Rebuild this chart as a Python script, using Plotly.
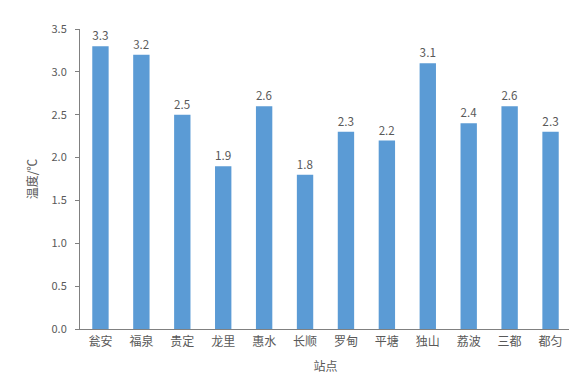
import plotly.graph_objects as go

stations = ["瓮安", "福泉", "贵定", "龙里", "惠水", "长顺", "罗甸", "平塘", "独山", "荔波", "三都", "都匀"]
temps = [3.3, 3.2, 2.5, 1.9, 2.6, 1.8, 2.3, 2.2, 3.1, 2.4, 2.6, 2.3]
y_ticks = [0.0, 0.5, 1.0, 1.5, 2.0, 2.5, 3.0, 3.5]

font_family = "Noto Sans CJK SC, DejaVu Sans"
grey = "#595959"

fig = go.Figure(go.Bar(
    x=stations, y=temps,
    marker=dict(color="#5B9BD5", line=dict(width=0)),
    text=[f"{v:.1f}" for v in temps],
    textposition="outside",
    textfont=dict(family=font_family, size=12, color=grey),
    cliponaxis=False,
))

fig.update_layout(
    width=577, height=380,
    margin=dict(l=72, r=14, t=14, b=59),
    paper_bgcolor="white", plot_bgcolor="white",
    bargap=0.6,
    showlegend=False,
    font=dict(family=font_family, size=11, color=grey),
)
fig.update_xaxes(
    showline=True, linecolor="#808080", linewidth=1,
    showgrid=False, ticks="", tickfont=dict(size=12, color=grey),
    ticklabelstandoff=2,
    title=dict(text="站点", font=dict(size=12, color=grey), standoff=14),
)
fig.update_yaxes(
    range=[0, 3.5], tickvals=y_ticks, ticktext=[f"{v:.1f}" for v in y_ticks],
    showline=True, linecolor="#808080", linewidth=1,
    showgrid=False, zeroline=False, ticks="outside", ticklen=4, tickcolor="#808080",
    ticklabelstandoff=6,
    tickfont=dict(size=11, color=grey),
    title=dict(text="温度/℃", font=dict(size=12, color=grey), standoff=11),
)

fig.write_html("out.html")
